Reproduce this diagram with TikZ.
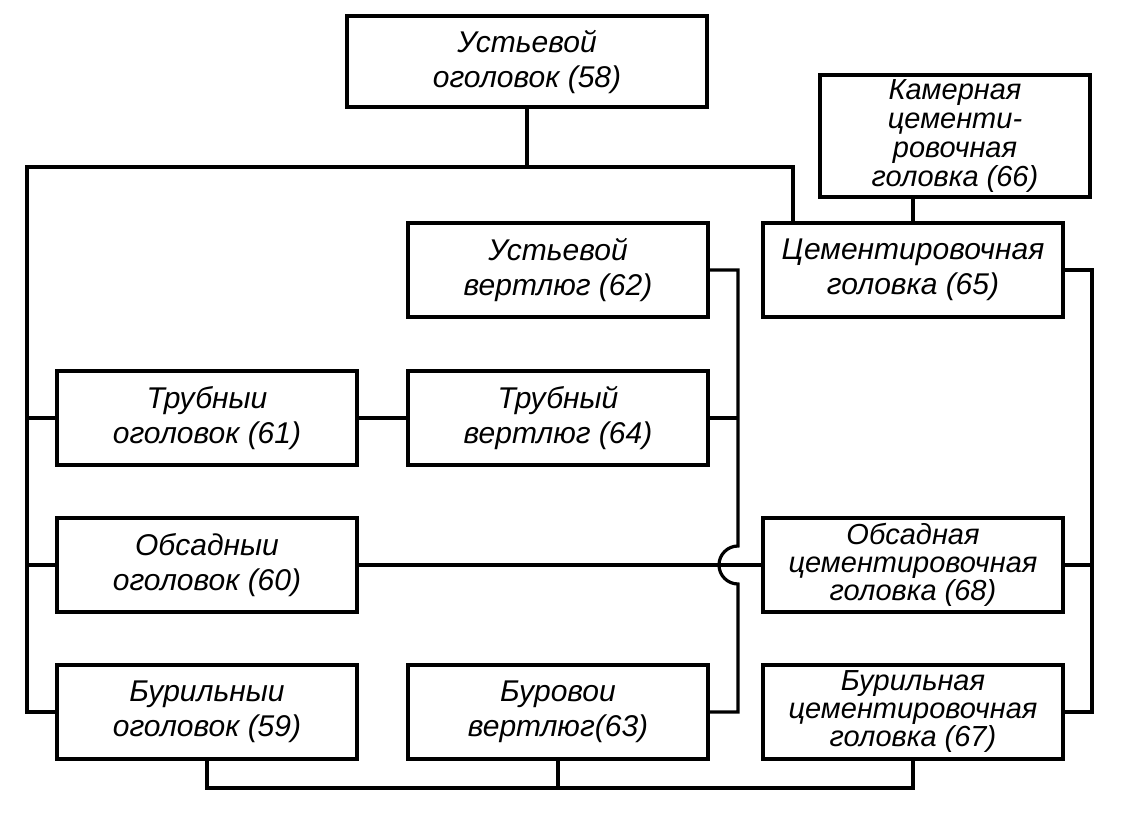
\documentclass[tikz,border=0pt]{standalone}
\usepackage{fontspec}
\setmainfont{Liberation Sans}
\begin{document}
\begin{tikzpicture}[x=0.5pt,y=-0.5pt]
    \tikzstyle{unit}=[draw=black,line width=2pt,align=center,inner sep=0pt,font=\itshape\fontsize{15}{17.5}\selectfont]
    \tikzstyle{tight}=[font=\itshape\fontsize{14.5}{14}\selectfont]
    \tikzstyle{row}=[minimum width=150pt,minimum height=47pt]
    \tikzstyle{link}=[draw=black,line width=1.6pt]

    \def\xa{207}
    \def\xb{558}
    \def\xc{913}
    \def\ya{270}
    \def\yb{418}
    \def\yc{565}
    \def\yd{712}

    \useasboundingbox (0,0) rectangle (1125,822);

    % top boxes
    \node[unit,minimum width=180pt,minimum height=45.5pt] (u58) at (527,62) {Устьевой\\оголовок (58)};
    \node[unit,tight,font=\itshape\fontsize{14.5}{14.5}\selectfont,minimum width=135pt,minimum height=61pt] (u66) at (955,136) {Камерная\\цементи-\\ровочная\\головка (66)};

    % columns
    \node[unit,row] (u62) at (\xb,\ya) {Устьевой\\вертлюг (62)};
    \node[unit,row] (u65) at (\xc,\ya) {Цементировочная\\головка (65)};

    \node[unit,row] (u61) at (\xa,\yb) {Трубныи\\оголовок (61)};
    \node[unit,row] (u64) at (\xb,\yb) {Трубный\\вертлюг (64)};

    \node[unit,row] (u60) at (\xa,\yc) {Обсадныи\\оголовок (60)};
    \node[unit,row,tight] (u68) at (\xc,\yc) {Обсадная\\цементировочная\\головка (68)};

    \node[unit,row] (u59) at (\xa,\yd) {Бурильныи\\оголовок (59)};
    \node[unit,row] (u63) at (\xb,\yd) {Буровои\\вертлюг(63)};
    \node[unit,row,tight] (u67) at (\xc,\yd) {Бурильная\\цементировочная\\головка (67)};

    \coordinate (tl) at (27,167);
    \coordinate (tr) at (793,167);
    \coordinate (hop) at (738,\yc);
    \coordinate (rb) at (1092,\ya);
    \coordinate (bb) at (0,788);

    % top bus and left bus
    \draw[link] (u58.south) -- (u58.south |- tl);
    \draw[link] (u65.north -| tr) -- (tr) -- (tl) -- (tl |- u59.west) -- (u59.west);
    \draw[link] (u61.west) -- (u61.west -| tl);
    \draw[link] (u60.west) -- (u60.west -| tl);
    \draw[link] (u66.south -| u65.north) -- (u65.north);
    \draw[link] (u61) -- (u64);

    % middle bus with hop
    \draw[link] (u62.east) -- (u62.east -| hop) -- ([yshift=9.5pt]hop) arc[start angle=90,end angle=270,radius=9.5pt] -- (u63.east -| hop) -- (u63.east);
    \draw[link] (u64.east) -- (u64.east -| hop);
    \draw[link] (u60) -- (u68);

    % right bus
    \draw[link] (u65.east) -- (rb) -- (rb |- u67.east) -- (u67.east);
    \draw[link] (u68.east) -- (u68.east -| rb);

    % bottom bus
    \draw[link] (u59.south) -- (u59.south |- bb) -- (u67.south |- bb) -- (u67.south);
    \draw[link] (u63.south) -- (u63.south |- bb);
\end{tikzpicture}
\end{document}
